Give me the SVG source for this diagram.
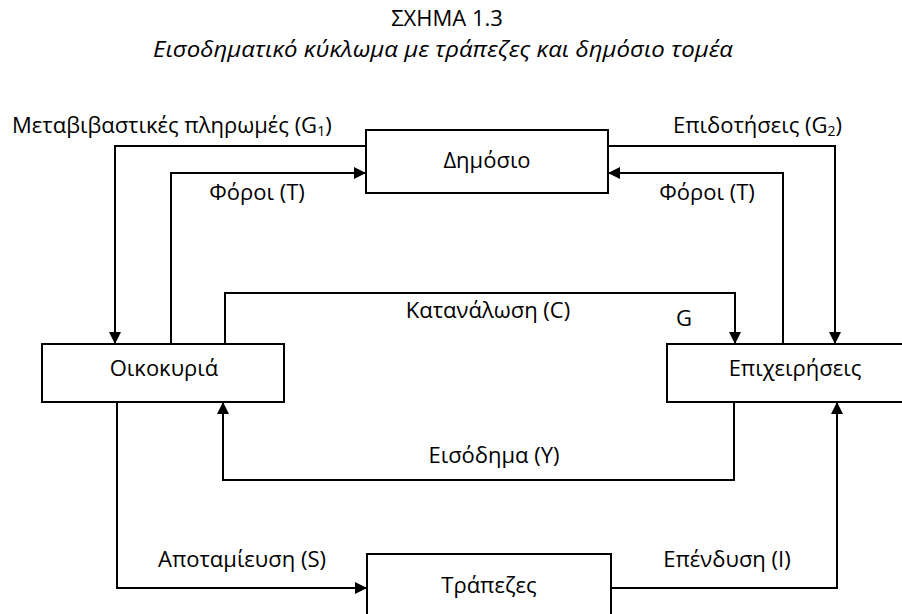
<svg xmlns="http://www.w3.org/2000/svg" width="902" height="614" viewBox="0 0 902 614">
<defs>
<style>
text{font-family:"Open Sans","Noto Sans","DejaVu Sans",sans-serif;font-size:22px;fill:#000}
.t{text-anchor:middle}
.it{font-style:italic}
.box{fill:#fff;stroke:#000;stroke-width:2}
.ln{fill:none;stroke:#000;stroke-width:2}
.ar{marker-end:url(#ah)}
.sub{font-size:14px}
</style>
<marker id="ah" markerUnits="userSpaceOnUse" markerWidth="12" markerHeight="12" refX="12" refY="6" orient="auto" viewBox="0 0 12 12">
<path d="M0,0 L12,6 L0,12 z" fill="#000"/>
</marker>
</defs>
<rect width="902" height="614" fill="#fff"/>
<g id="title">
<text class="t" x="447" y="26">ΣΧΗΜΑ 1.3</text>
<text class="t it" x="443" y="57" font-size="21" textLength="580" lengthAdjust="spacingAndGlyphs">Εισοδηματικό κύκλωμα με τράπεζες και δημόσιο τομέα</text>
</g>
<g id="connectors">
<polyline class="ln ar" points="366,146 115,146 115,344"/>
<polyline class="ln ar" points="171,344 171,173 366,173"/>
<polyline class="ln ar" points="608,146 835,146 835,344"/>
<polyline class="ln ar" points="783,344 783,173 608,173"/>
<polyline class="ln ar" points="225,344 225,293 735,293 735,344"/>
<polyline class="ln ar" points="734,402 734,480 223,480 223,402"/>
<polyline class="ln ar" points="117,402 117,588 367,588"/>
<polyline class="ln ar" points="611,588 837,588 837,402"/>
</g>
<g id="labels">
<text x="12" y="133">Μεταβιβαστικές πληρωμές (G<tspan class="sub" dy="3">1</tspan><tspan dy="-3">)</tspan></text>
<text x="673" y="133">Επιδοτήσεις (G<tspan class="sub" dy="3">2</tspan><tspan dy="-3">)</tspan></text>
<text class="t" x="257" y="200">Φόροι (Τ)</text>
<text class="t" x="707" y="200">Φόροι (Τ)</text>
<text class="t" x="488" y="318">Κατανάλωση (C)</text>
<text class="t" x="684" y="326">G</text>
<text class="t" x="494" y="463">Εισόδημα (Y)</text>
<text class="t" x="242" y="567">Αποταμίευση (S)</text>
<text class="t" x="727" y="567">Επένδυση (Ι)</text>
</g>
<g id="dimosio">
<rect class="box" x="366" y="130" width="242" height="63"/>
<text class="t" x="487" y="168">Δημόσιο</text>
</g>
<g id="oikokyria">
<rect class="box" x="42" y="344" width="242" height="58"/>
<text class="t" x="164" y="376">Οικοκυριά</text>
</g>
<g id="epixeiriseis">
<rect class="box" x="667" y="344" width="256" height="58"/>
<text class="t" x="795" y="376">Επιχειρήσεις</text>
</g>
<g id="trapezes">
<rect class="box" x="367" y="554" width="244" height="80"/>
<text class="t" x="489" y="593">Τράπεζες</text>
</g>
</svg>
